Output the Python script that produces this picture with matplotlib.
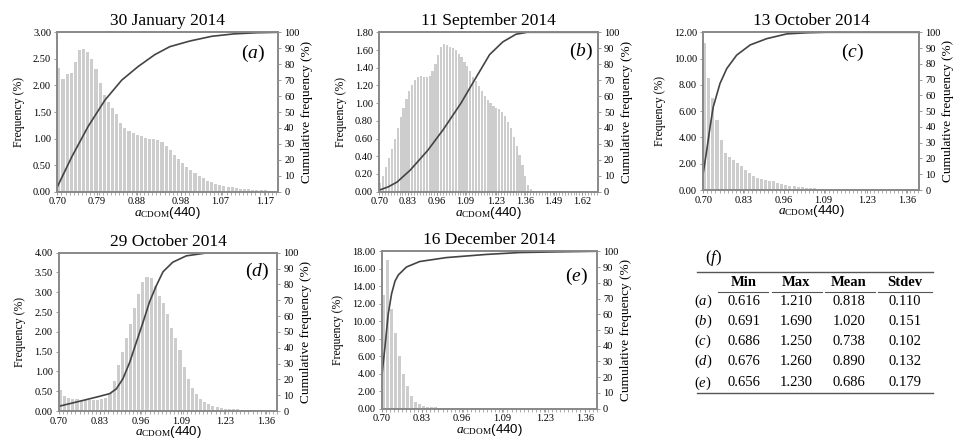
import numpy as np
import matplotlib
matplotlib.use('Agg')
import matplotlib.pyplot as plt
from matplotlib.lines import Line2D

plt.rcParams['font.family'] = ['Liberation Serif', 'DejaVu Serif']
plt.rcParams['mathtext.fontset'] = 'custom'
plt.rcParams['mathtext.rm'] = 'Liberation Serif'
plt.rcParams['mathtext.it'] = 'Liberation Serif:italic'
plt.rcParams['mathtext.sf'] = 'Liberation Sans'

# ---- data ----
titles = ['30 January 2014', '11 September 2014', '13 October 2014',
          '29 October 2014', '16 December 2014']
letters = ['a', 'b', 'c', 'd', 'e']

bin_width = [0.00935, 0.01314, 0.01314, 0.01314, 0.01314]
x_max = [1.200, 1.690, 1.400, 1.390, 1.390]

xticks_a = [0.70, 0.79, 0.88, 0.98, 1.07, 1.17]
xticks_b = [0.70, 0.83, 0.96, 1.09, 1.23, 1.36, 1.49, 1.62]
xticks_cde = [0.70, 0.83, 0.96, 1.09, 1.23, 1.36]

y_max = [3.0, 1.8, 12.0, 4.0, 18.0]
y_step = [0.5, 0.2, 2.0, 0.5, 2.0]

freq_a = [2.33, 2.12, 2.22, 2.24, 2.45, 2.66, 2.68, 2.62, 2.50, 2.30,
          2.05, 1.82, 1.68, 1.58, 1.46, 1.30, 1.20, 1.15, 1.10, 1.07,
          1.04, 1.02, 1.00, 0.99, 0.97, 0.93, 0.86, 0.78, 0.70, 0.62,
          0.54, 0.47, 0.41, 0.35, 0.30, 0.25, 0.21, 0.18, 0.15, 0.13,
          0.11, 0.095, 0.08, 0.07, 0.06, 0.05, 0.045, 0.04, 0.035, 0.03,
          0.025, 0.02, 0.015]
freq_b = [0.10, 0.18, 0.28, 0.38, 0.48, 0.60, 0.72, 0.84, 0.95, 1.05,
          1.14, 1.21, 1.26, 1.30, 1.31, 1.30, 1.29, 1.31, 1.36, 1.44,
          1.54, 1.63, 1.67, 1.66, 1.63, 1.62, 1.60, 1.55, 1.52, 1.47,
          1.42, 1.36, 1.30, 1.25, 1.19, 1.14, 1.08, 1.04, 1.00, 0.97,
          0.95, 0.93, 0.90, 0.86, 0.79, 0.72, 0.62, 0.52, 0.42, 0.30,
          0.18, 0.08, 0.03, 0.01, 0.01, 0.005, 0.005, 0.005, 0.005, 0.005,
          0.005, 0.005, 0.005, 0.005, 0.005, 0.005, 0.005, 0.005, 0.005, 0.005,
          0.005, 0.005, 0.005, 0.005, 0.005]
freq_c = [11.2, 8.5, 7.0, 5.3, 3.8, 2.8, 2.5, 2.3, 2.05, 1.8,
          1.55, 1.3, 1.1, 0.95, 0.85, 0.78, 0.72, 0.65, 0.55, 0.48,
          0.40, 0.33, 0.28, 0.24, 0.20, 0.17, 0.14, 0.12, 0.10, 0.09,
          0.08, 0.07, 0.06, 0.05, 0.05, 0.04, 0.04, 0.03, 0.03, 0.03,
          0.02, 0.02, 0.02, 0.02, 0.02, 0.01, 0.01, 0.01, 0.01, 0.01,
          0.01, 0.01, 0.01]
freq_d = [0.52, 0.38, 0.32, 0.30, 0.30, 0.28, 0.27, 0.27, 0.27, 0.28,
          0.30, 0.33, 0.45, 0.75, 1.15, 1.50, 1.85, 2.20, 2.60, 2.95,
          3.25, 3.38, 3.36, 3.15, 2.90, 2.72, 2.45, 2.10, 1.85, 1.55,
          1.10, 0.80, 0.58, 0.42, 0.30, 0.22, 0.17, 0.13, 0.10, 0.08,
          0.06, 0.05, 0.045, 0.04, 0.035, 0.03, 0.025, 0.02, 0.02, 0.02,
          0.02, 0.02, 0.02]
freq_e = [13.0, 17.0, 11.4, 8.6, 6.0, 4.0, 2.6, 1.4, 0.8, 0.5,
          0.35, 0.25, 0.2, 0.15, 0.12, 0.10, 0.08, 0.07, 0.06, 0.05,
          0.05, 0.04, 0.04, 0.03, 0.03, 0.03, 0.02, 0.02, 0.02, 0.02,
          0.02, 0.02, 0.02, 0.01, 0.01, 0.01, 0.01, 0.01, 0.01, 0.01,
          0.01, 0.01, 0.01, 0.01, 0.01, 0.01, 0.01, 0.01, 0.01, 0.01,
          0.01, 0.01, 0.01]

# cumulative frequency curves (%)
cum_x_a = [0.700, 0.733, 0.770, 0.808, 0.846, 0.883, 0.921, 0.955, 1.000, 1.050, 1.100, 1.150, 1.200]
cum_y_a = [3.0, 22.0, 41.0, 57.5, 70.0, 78.5, 86.0, 91.0, 94.5, 97.5, 99.0, 99.7, 100.0]
cum_x_b = [0.700, 0.740, 0.780, 0.840, 0.920, 0.990, 1.070, 1.140, 1.200, 1.260, 1.320, 1.370, 1.690]
cum_y_b = [1.0, 3.0, 6.0, 13.5, 26.0, 39.0, 55.5, 72.0, 86.0, 94.0, 98.8, 100.0, 100.0]
cum_x_c = [0.700, 0.711, 0.722, 0.732, 0.754, 0.776, 0.808, 0.852, 0.906, 0.971, 1.036, 1.100, 1.400]
cum_y_c = [11.0, 25.0, 40.0, 52.5, 67.5, 77.0, 85.5, 92.0, 96.0, 99.0, 99.7, 100.0, 100.0]
cum_x_d = [0.700, 0.777, 0.830, 0.862, 0.883, 0.904, 0.926, 0.947, 0.968, 0.989, 1.010, 1.032, 1.063, 1.106, 1.169, 1.254, 1.390]
cum_y_d = [3.0, 6.7, 9.3, 11.0, 14.0, 20.4, 31.0, 43.6, 56.0, 69.0, 79.0, 88.0, 94.0, 98.0, 99.8, 100.0, 100.0]
cum_x_e = [0.700, 0.711, 0.716, 0.721, 0.732, 0.743, 0.754, 0.780, 0.823, 0.909, 1.038, 1.145, 1.253, 1.390]
cum_y_e = [20.0, 40.0, 50.0, 60.0, 73.0, 81.0, 85.0, 90.0, 93.5, 96.0, 98.0, 99.2, 99.6, 100.0]

# table (f)
table_cols = ['Min', 'Max', 'Mean', 'Stdev']
stat_min = [0.616, 0.691, 0.686, 0.676, 0.656]
stat_max = [1.210, 1.690, 1.250, 1.260, 1.230]
stat_mean = [0.818, 1.020, 0.738, 0.890, 0.686]
stat_std = [0.110, 0.151, 0.102, 0.132, 0.179]

freqs = [freq_a, freq_b, freq_c, freq_d, freq_e]
cum_xs = [cum_x_a, cum_x_b, cum_x_c, cum_x_d, cum_x_e]
cum_ys = [cum_y_a, cum_y_b, cum_y_c, cum_y_d, cum_y_e]
xticks = [xticks_a, xticks_b, xticks_cde, xticks_cde, xticks_cde]

W, H = 967, 444
fig = plt.figure(figsize=(W / 100, H / 100), dpi=100)


def box(x0, y0, x1, y1):
    # pixel box (top-left origin) -> figure fraction rect
    return [x0 / W, 1 - y1 / H, (x1 - x0) / W, (y1 - y0) / H]


boxes = [box(57.3, 32.3, 278, 191.7), box(379.3, 32.3, 597.7, 191.7),
         box(703.3, 32.3, 919.3, 190.0), box(59, 252.7, 277.3, 411),
         box(381.7, 251.3, 596.7, 408.7)]
label_pos = [(0.885, 0.87), (0.925, 0.88), (0.69, 0.87), (0.905, 0.88), (0.905, 0.84)]

frame_col = '#8a8a8a'
bar_col = '#cdcdcd'
line_col = '#444444'
tick_fs = 7.5

for i in range(5):
    ax = fig.add_axes(boxes[i])
    f = np.array(freqs[i])
    w = bin_width[i]
    left = 0.70 + w * np.arange(len(f))
    ax.bar(left, f, width=w * 0.75, align='edge', color=bar_col, linewidth=0)
    ax.set_xlim(0.70, x_max[i])
    ax.set_ylim(0, y_max[i])
    yt = np.arange(0, y_max[i] + 1e-9, y_step[i])
    ax.set_yticks(yt)
    ax.set_yticklabels(['%.2f' % v for v in yt])
    ax.set_xticks(xticks[i])
    ax.set_xticklabels(['%.2f' % v for v in xticks[i]])
    ax.set_xticks(0.70 + w * np.arange(len(f) + 1), minor=True)
    ax.tick_params(axis='x', which='minor', length=2, width=0.5, color=frame_col)
    ax.tick_params(which='major', labelsize=tick_fs, length=2.5, width=0.6,
                   color=frame_col, pad=2)
    ax.tick_params(axis='x', which='major', pad=1.5)
    ax.set_ylabel('Frequency (%)', fontsize=8.5, labelpad=6)
    ax.set_xlabel(r'$a_{\mathrm{CDOM}}\mathsf{(440)}$', fontsize=9.5, labelpad=-1)
    ax.set_title(titles[i], fontsize=12.5, pad=5)
    for s in ax.spines.values():
        s.set_color(frame_col)
        s.set_linewidth(1.3)

    ax2 = ax.twinx()
    ax2.plot(cum_xs[i], cum_ys[i], color=line_col, lw=1.2)
    ax2.set_ylim(0, 100)
    ax2.set_yticks(np.arange(0, 101, 10))
    ax2.tick_params(labelsize=tick_fs, length=2.5, width=0.6, color=frame_col, pad=2)
    ax2.set_ylabel('Cumulative frequency (%)', fontsize=9.5, labelpad=1)
    for s in ax2.spines.values():
        s.set_color(frame_col)
        s.set_linewidth(1.3)
    ax2.text(label_pos[i][0], label_pos[i][1], r'$(%s)$' % letters[i],
             transform=ax.transAxes, fontsize=14, ha='center', va='center')

# ---- table (f) ----
def fx(px):
    return px / W


def fy(py):
    return 1 - py / H


fig.text(fx(714), fy(258), r'$(f)$', fontsize=12, ha='center', va='center')
col_x = [744, 796, 849, 905]
row_y = [301.7, 321.7, 341.7, 361.7, 383.0]
tab_fs = 10.5
fig.add_artist(Line2D([fx(697), fx(933)], [fy(271.7), fy(271.7)], color='#555555', lw=1.0))
fig.add_artist(Line2D([fx(697), fx(933)], [fy(393.3), fy(393.3)], color='#555555', lw=1.0))
for x0, x1 in [(718, 768), (772, 822), (825, 875), (878, 932)]:
    fig.add_artist(Line2D([fx(x0), fx(x1)], [fy(291.5), fy(291.5)], color='#555555', lw=0.8))
for j, name in enumerate(table_cols):
    fig.text(fx(col_x[j]), fy(282.3), name, fontsize=tab_fs, fontweight='bold',
             ha='center', va='center')
for r in range(5):
    fig.text(fx(703), fy(row_y[r]), r'$(%s)$' % letters[r], fontsize=tab_fs,
             ha='center', va='center')
    vals = [stat_min[r], stat_max[r], stat_mean[r], stat_std[r]]
    for j, v in enumerate(vals):
        fig.text(fx(col_x[j]), fy(row_y[r]), '%.3f' % v, fontsize=tab_fs,
                 ha='center', va='center')

fig.savefig('out.png', dpi=100)
